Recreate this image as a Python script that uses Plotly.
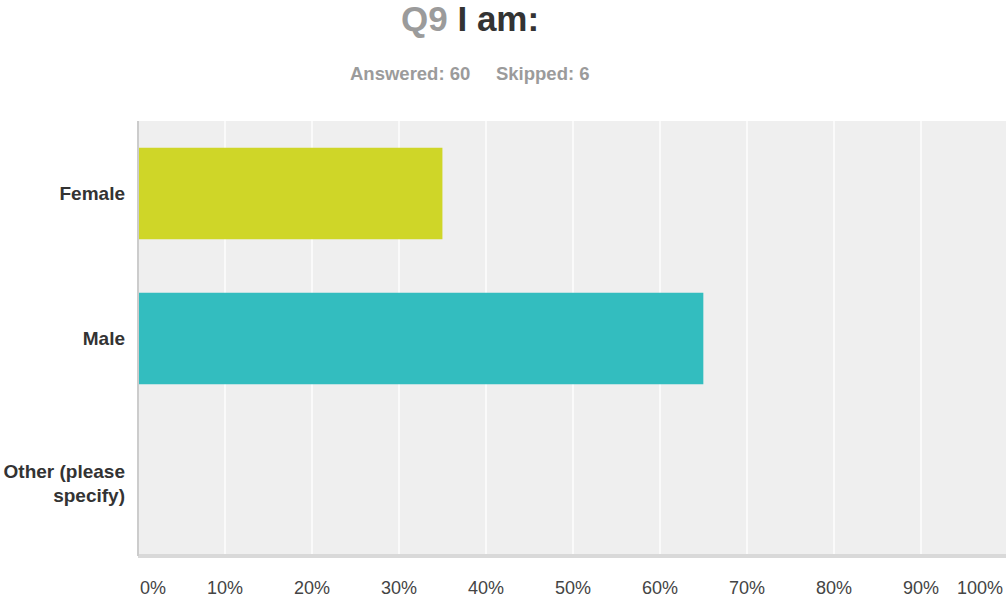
import plotly.graph_objects as go

# Survey responses for "Q9 I am:"
categories = ["Female", "Male", "Other (please<br>specify)"]
percent = [35, 65, 0]
bar_colors = ["#cfd628", "#33bdbf", "#e0e0e0"]
answered = 60
skipped = 6
tick_vals = [0, 10, 20, 30, 40, 50, 60, 70, 80, 90, 100]
tick_text = ["0%", "10%", "20%", "30%", "40%", "50%", "60%", "70%", "80%", "90%", "100%"]

FONT = "Liberation Sans, Arial, sans-serif"
X_MAX = 99.8

fig = go.Figure(
    go.Bar(
        y=categories,
        x=percent,
        orientation="h",
        marker=dict(color=bar_colors, line=dict(width=0)),
        hoverinfo="skip",
    )
)

# X tick labels: edge labels are held inside the plot, the rest are centred
annotations = []
for i, (v, t) in enumerate(zip(tick_vals, tick_text)):
    if i == 0:
        anchor, shift = "left", 0
    elif i == len(tick_vals) - 1:
        anchor, shift = "right", -1
    else:
        anchor, shift = "center", 0
    annotations.append(dict(
        x=min(v / X_MAX, 1.0), y=0, xref="paper", yref="paper", text=t,
        showarrow=False, xanchor=anchor, yanchor="middle",
        xshift=shift, yshift=-32,
        font=dict(family=FONT, size=18, color="#444444"),
    ))

# Title and response summary
annotations.append(dict(
    x=0.3825, y=1, xref="paper", yref="paper", yshift=103,
    text="<span style='color:#9b9b9b'>Q9</span> <span style='color:#333333'>I am:</span>",
    showarrow=False, xanchor="center", yanchor="middle",
    font=dict(family=FONT, size=35, color="#333333", weight="bold"),
))
annotations.append(dict(
    x=0.3825, y=1, xref="paper", yref="paper", yshift=48,
    text=f"Answered: {answered}&nbsp;&nbsp;&nbsp;&nbsp;&nbsp;Skipped: {skipped}",
    showarrow=False, xanchor="center", yanchor="middle",
    font=dict(family=FONT, size=18.5, color="#9b9b9b", weight="bold"),
))

fig.update_layout(
    width=1006, height=602,
    margin=dict(l=138, r=0, t=121, b=46),
    paper_bgcolor="white",
    plot_bgcolor="#efefef",
    showlegend=False,
    bargap=0.37,
    annotations=annotations,
    xaxis=dict(
        range=[0, X_MAX], tickvals=tick_vals, showticklabels=False,
        showgrid=True, gridcolor="#fafafa", gridwidth=2,
        zeroline=False, showline=False, fixedrange=True,
    ),
    yaxis=dict(
        autorange="reversed", showgrid=False, zeroline=False,
        ticks="", ticklabelstandoff=12,
        tickfont=dict(family=FONT, size=19, color="#333333", weight="bold"),
        showline=False, fixedrange=True,
    ),
    shapes=[
        dict(type="line", xref="paper", yref="paper", x0=0, x1=1, y0=0, y1=0,
             line=dict(color="#d9d9d9", width=4), layer="above"),
        dict(type="line", xref="paper", yref="paper", x0=0, x1=0, y0=0, y1=1,
             line=dict(color="#cccccc", width=2), layer="above"),
    ],
)

fig.write_html("out.html")
